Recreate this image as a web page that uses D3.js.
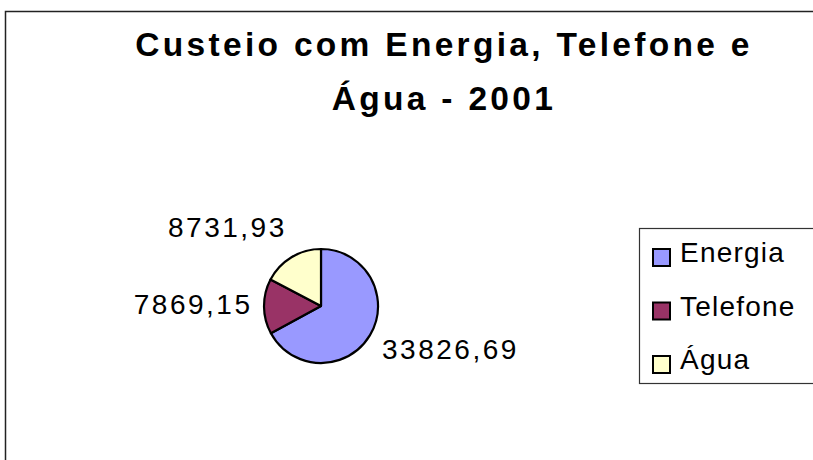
<!DOCTYPE html>
<html>
<head>
<meta charset="utf-8">
<script src="https://cdn.jsdelivr.net/npm/d3@7"></script>
<style>
  body { margin: 0; background: #fff; }
  text { font-family: "Liberation Sans", Arial, sans-serif; fill: #000; }
</style>
</head>
<body>
<svg width="813" height="460"></svg>
<script>
// data
let categories = ['Energia', 'Telefone', 'Água'];
let values = [33826.69, 7869.15, 8731.93];
let colors = ['#9999ff', '#993366', '#ffffcc'];
let titleLines = ['Custeio com Energia, Telefone e', 'Água - 2001'];

let dataset = categories.map((c, i) => ({ name: c, value: values[i], color: colors[i] }));

// pt-BR number format: 33826,69
let fmt = d3.formatLocale({ decimal: ',', thousands: '.', grouping: [3], currency: ['R$', ''] }).format('.2f');

let svg = d3.select('svg');

// chart area border (runs off the right / bottom of the picture)
svg.append('rect')
  .attr('x', 5.5).attr('y', 11.5)
  .attr('width', 900).attr('height', 600)
  .attr('fill', 'none')
  .attr('stroke', '#222')
  .attr('stroke-width', 1.5);

// title
svg.append('g')
  .selectAll('text')
  .data(titleLines)
  .enter().append('text')
  .attr('x', 444)
  .attr('y', (d, i) => 56 + i * 54)
  .attr('text-anchor', 'middle')
  .style('font-size', '33.5px')
  .style('font-weight', 'bold')
  .style('letter-spacing', '3.3px')
  .text(d => d);

// pie
let cx = 321, cy = 306, radius = 57;
let pie = d3.pie().value(d => d.value).sort(null);
let arc = d3.arc().innerRadius(0).outerRadius(radius);
let arcs = pie(dataset);

let g = svg.append('g').attr('transform', `translate(${cx},${cy})`);

g.selectAll('path')
  .data(arcs)
  .enter().append('path')
  .attr('d', arc)
  .attr('fill', d => d.data.color)
  .attr('stroke', '#000')
  .attr('stroke-width', 2.2)
  .attr('stroke-linejoin', 'round');

// labels outside the pie
let labelR = 71, fs = 28, ls = 2.5;
g.selectAll('text.lbl')
  .data(arcs)
  .enter().append('text')
  .attr('class', 'lbl')
  .each(function(d) {
    let a = (d.startAngle + d.endAngle) / 2;
    let dx = Math.sin(a), dy = -Math.cos(a);
    let px = dx * labelR, py = dy * labelR;
    let anchor = dx > 0.3 ? 'start' : (dx < -0.3 ? 'end' : 'middle');
    // trailing letter-spacing pushes end-anchored text left
    let shift = anchor === 'end' ? ls : 0;
    d3.select(this)
      .attr('x', px + shift)
      .attr('y', py + dy * 18 + fs * 0.36 - 3)
      .attr('text-anchor', anchor);
  })
  .style('font-size', fs + 'px')
  .style('letter-spacing', ls + 'px')
  .text(d => fmt(d.data.value));

// legend
let legend = svg.append('g').attr('transform', 'translate(639,228)');
legend.append('rect')
  .attr('x', 0.5).attr('y', 0.5)
  .attr('width', 180).attr('height', 155)
  .attr('fill', '#fff')
  .attr('stroke', '#333')
  .attr('stroke-width', 1.2);

let item = legend.selectAll('g.item')
  .data(dataset)
  .enter().append('g')
  .attr('class', 'item')
  .attr('transform', (d, i) => `translate(0,${i * 53.5})`);

item.append('rect')
  .attr('x', 14).attr('y', 21)
  .attr('width', 17).attr('height', 17)
  .attr('fill', d => d.color)
  .attr('stroke', '#000')
  .attr('stroke-width', 2);

item.append('text')
  .attr('x', 41)
  .attr('y', 34)
  .style('font-size', '28px')
  .style('letter-spacing', '1.2px')
  .text(d => d.name);
</script>
</body>
</html>
